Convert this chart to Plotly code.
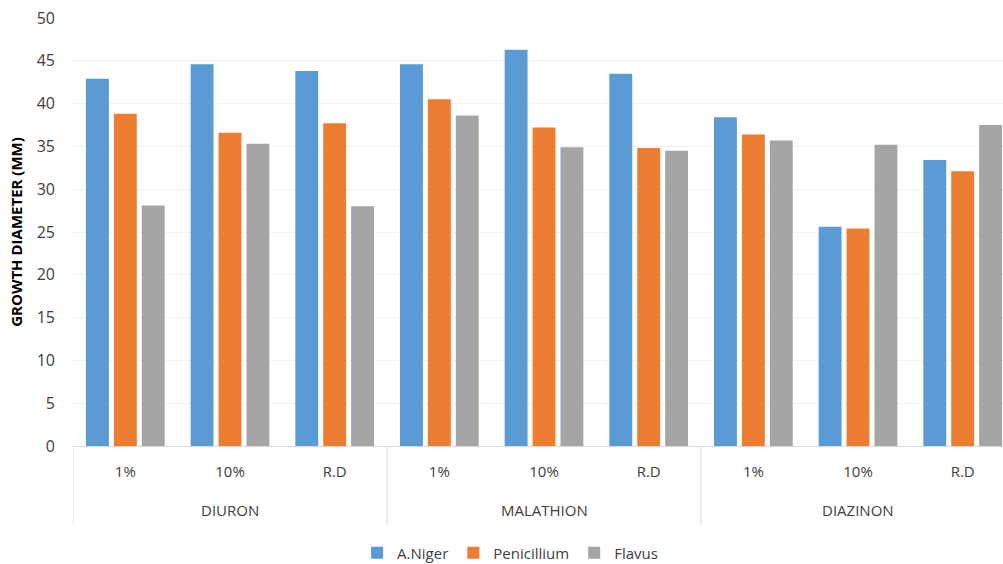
import plotly.graph_objects as go

groups = ["DIURON", "MALATHION", "DIAZINON"]
doses = ["1%", "10%", "R.D"]
a_niger = [42.9, 44.6, 43.8, 44.6, 46.3, 43.5, 38.4, 25.6, 33.4]
penicillium = [38.8, 36.6, 37.7, 40.5, 37.2, 34.8, 36.4, 25.4, 32.1]
flavus = [28.1, 35.3, 28.0, 38.6, 34.9, 34.5, 35.7, 35.2, 37.5]

xd = [d for _ in groups for d in doses]
xpos = list(range(len(xd)))

fig = go.Figure()
for name, vals, col in [("A.Niger", a_niger, "#5B9BD5"),
                        ("Penicillium", penicillium, "#ED7D31"),
                        ("Flavus", flavus, "#A5A5A5")]:
    fig.add_trace(go.Bar(x=xpos, y=vals, name=name,
                         marker=dict(color=col, line=dict(width=0))))

font = "Open Sans, Noto Sans, sans-serif"
txt = "#404040"

# group labels and dividers
n = len(doses)
for gi, g in enumerate(groups):
    center = gi * n + (n - 1) / 2
    fig.add_annotation(x=center, xref="x", y=-0.149, yref="paper", text=g,
                       showarrow=False, font=dict(size=15, color=txt),
                       xanchor="center", yanchor="middle")
for b in range(len(groups) + 1):
    xb = b * n - 0.5
    fig.add_shape(type="line", xref="x", yref="paper", x0=xb, x1=xb, y0=0, y1=-0.185,
                  line=dict(color="#d9d9d9", width=1))

fig.update_layout(
    width=1003, height=564,
    margin=dict(l=73, r=0, t=18, b=118, autoexpand=False),
    paper_bgcolor="white", plot_bgcolor="white",
    barmode="group", bargap=0.2, bargroupgap=0.18,
    font=dict(family=font, size=15, color=txt),
    legend=dict(orientation="h", x=0.47, xanchor="center", y=-0.250, yanchor="middle",
                font=dict(size=15, color=txt), traceorder="normal", itemwidth=30),
    showlegend=True,
)
fig.update_yaxes(range=[0, 50], dtick=5, showgrid=True, gridcolor="#f2f2f2",
                 zeroline=False, showline=False, ticks="", automargin=False,
                 tickfont=dict(size=16, color=txt), ticklabelstandoff=17,
                 title=dict(text="<b>GROWTH DIAMETER (MM)</b>", font=dict(size=15, color="#000000"),
                            standoff=10))
fig.update_xaxes(range=[-0.5, 8.385], showline=True, linecolor="#d9d9d9", ticks="",
                 tickvals=xpos, ticktext=xd, automargin=False, showgrid=False, zeroline=False,
                 ticklabelstandoff=12, tickfont=dict(size=15, color=txt))
fig.write_html("out.html", config={"displayModeBar": False},
               post_script="document.body.style.margin='0';document.body.style.overflow='hidden';")
